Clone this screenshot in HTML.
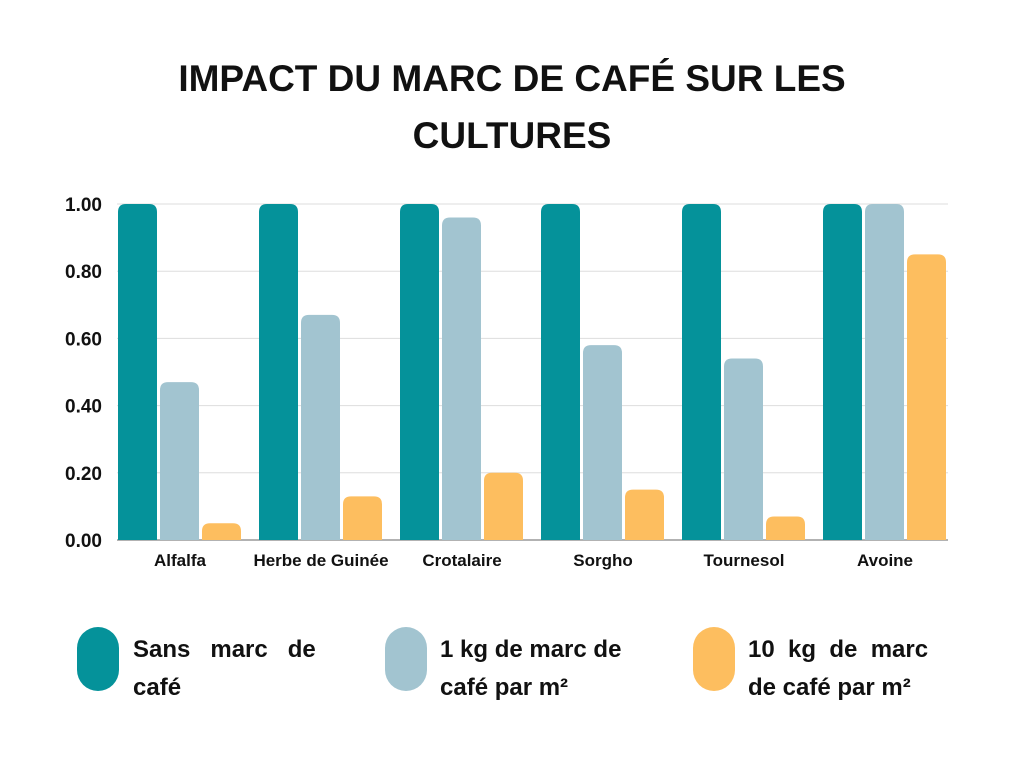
<!DOCTYPE html>
<html><head><meta charset="utf-8"><style>
body{margin:0;width:1024px;height:768px;background:#fff;font-family:"Liberation Sans",sans-serif;overflow:hidden;position:relative}
.title{position:absolute;left:0;width:1024px;top:50px;text-align:center;font-weight:bold;font-size:37px;line-height:57px;color:#111}
.leg{position:absolute;font-weight:bold;font-size:24px;line-height:38px;color:#111}
.pill{position:absolute;width:42px;height:64px;border-radius:21px;top:627px}
</style></head><body>
<div class="title">IMPACT DU MARC DE CAFÉ SUR LES<br>CULTURES</div>
<svg id="chart" width="1024" height="600" style="position:absolute;left:0;top:0"></svg>
<div class="pill" style="left:77px;background:#05929a"></div>
<div class="leg" style="left:133px;top:631px;width:200px;text-align:justify;text-align-last:left">Sans&nbsp;&nbsp;&nbsp;marc&nbsp;&nbsp;&nbsp;de<br>café</div>
<div class="pill" style="left:385px;background:#a2c4d0"></div>
<div class="leg" style="left:440px;top:631px">1 kg de marc de<br>café par m²</div>
<div class="pill" style="left:693px;background:#fdbe5f"></div>
<div class="leg" style="left:748px;top:631px">10&nbsp; kg&nbsp; de&nbsp; marc<br>de café par m²</div>
<script>
const categories=["Alfalfa","Herbe de Guinée","Crotalaire","Sorgho","Tournesol","Avoine"];
const sans=[1,1,1,1,1,1];
const kg1=[0.47,0.67,0.96,0.58,0.54,1];
const kg10=[0.05,0.13,0.20,0.15,0.07,0.85];
const ticks=[0,0.2,0.4,0.6,0.8,1.0];
const series=[sans,kg1,kg10];
const colors=["#05929a","#a2c4d0","#fdbe5f"];
const names=["sans","1kg","10kg"];
const svg=document.getElementById('chart');
const NS="http://www.w3.org/2000/svg";
const y0=540,y1=204;
const y=v=>y0-(y0-y1)*v;
const x=i=>118+141*i;
ticks.forEach(t=>{
 const l=document.createElementNS(NS,'line');
 
 
 l.setAttribute('x1',117);l.setAttribute('x2',948);l.setAttribute('y1',y(t));l.setAttribute('y2',y(t));
 l.setAttribute('stroke',t===0?'#999':'#ddd');l.setAttribute('stroke-width',t===0?1.5:1);
 svg.appendChild(l);
 const tx=document.createElementNS(NS,'text');
 
 
 tx.setAttribute('x',102);tx.setAttribute('y',y(t)+7);tx.setAttribute('text-anchor','end');
 tx.setAttribute('font-size','19');tx.setAttribute('font-weight','bold');tx.setAttribute('fill','#111');
 tx.textContent=t.toFixed(2);svg.appendChild(tx);
});
categories.forEach((c,i)=>{
 series.forEach((s,k)=>{
  const bx=x(i)+k*42,top=y(s[i]),h=y0-top,r=Math.min(8,h/2);
  const p=document.createElementNS(NS,'path');
  
  
  p.setAttribute('d',`M${bx},${y0}V${top+r}Q${bx},${top} ${bx+r},${top}H${bx+39-r}Q${bx+39},${top} ${bx+39},${top+r}V${y0}Z`);
  p.setAttribute('fill',colors[k]);svg.appendChild(p);
 });
 const tx=document.createElementNS(NS,'text');
 
 
 tx.setAttribute('x',x(i)+62);tx.setAttribute('y',566);tx.setAttribute('text-anchor','middle');
 tx.setAttribute('font-size','17');tx.setAttribute('font-weight','bold');tx.setAttribute('fill','#111');
 tx.textContent=c;svg.appendChild(tx);
});
</script>
</body></html>
